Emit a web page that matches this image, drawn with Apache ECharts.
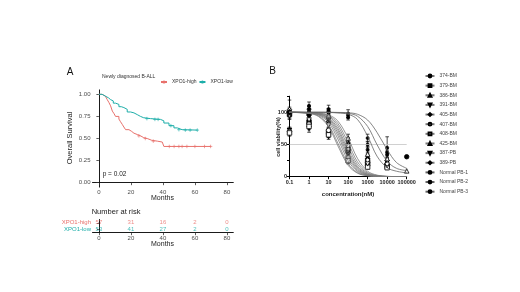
<!DOCTYPE html>
<html><head><meta charset="utf-8">
<script src="https://cdn.jsdelivr.net/npm/echarts@6/dist/echarts.min.js"></script>
<style>html,body{margin:0;padding:0;background:#fff}#c{width:520px;height:292px}</style>
</head><body><div id="c"></div><script>
// ---------- Panel A data ----------
const monthTicks = [0, 20, 40, 60, 80];
const survTicks = [0, 0.25, 0.5, 0.75, 1];
const kmHigh = [[0,1],[2,0.98],[4,0.96],[5.2,0.94],[6.3,0.906],[7.3,0.87],[8.4,0.81],[9.5,0.78],[10.4,0.75],[12.5,0.72],[13.5,0.69],[14.6,0.66],[15.6,0.63],[16.7,0.6],[18.8,0.58],[20.5,0.56],[21.9,0.545],[24,0.53],[26,0.51],[28,0.5],[30.2,0.48],[33,0.47],[36.5,0.46],[39.6,0.44],[40.6,0.41],[69.8,0.41]];
const kmLow = [[0,1],[2,0.98],[4,0.96],[6,0.94],[7.3,0.925],[9,0.9],[10.4,0.886],[12.5,0.86],[14,0.85],[15.6,0.83],[17.7,0.8],[19.8,0.79],[21.9,0.77],[24,0.75],[26,0.735],[28,0.725],[32.3,0.716],[38.5,0.7],[40.6,0.675],[43.8,0.645],[46.9,0.62],[49,0.6],[52,0.595],[61.5,0.595]];
const censorHigh = [[25,0.53],[29,0.5],[34,0.47],[44,0.41],[47,0.41],[50,0.41],[52,0.41],[55,0.41],[60,0.41],[66,0.41],[69.8,0.41]];
const censorLow = [[30,0.725],[35,0.716],[37,0.716],[45,0.645],[50,0.6],[54,0.595],[57,0.595],[61.5,0.595]];
const groups = ['XPO1-high', 'XPO1-low'];
const riskTimes = [0, 20, 40, 60, 80];
const riskHigh = [57, 31, 16, 2, 0];
const riskLow = [53, 41, 27, 2, 0];

// ---------- Panel B data ----------
const samples = ['374-BM','379-BM','386-BM','391-BM','405-BM','407-BM','408-BM','425-BM','387-PB','389-PB','Normal PB-1','Normal PB-2','Normal PB-3'];
const conc = [0.1, 1, 10, 100, 1000, 10000, 100000];
const curveConc = [0.1, 1, 3, 10, 30, 100, 300, 1000, 3000, 10000, 30000, 100000];
const c374 = [99.9,98.2,93.6,77.5,47.9,17.8,5.5,1.4,0.4,0.1,0,0];
const c379 = [99.9,98.5,94.5,80.1,52.0,20.3,6.4,1.6,0.4,0.1,0,0];
const c386 = [99.9,98.8,95.7,84.0,58.5,25.0,8.2,2.1,0.6,0.1,0,0];
const c391 = [100,99.0,96.5,86.8,63.7,29.3,10.0,2.5,0.7,0.2,0,0];
const c405 = [100,99.2,97.1,88.8,67.9,33.3,11.8,3.0,0.8,0.2,0.1,0];
const c407 = [100,99.3,97.6,90.4,71.7,37.4,13.8,3.6,1.0,0.2,0.1,0];
const c408 = [100,99.4,97.9,91.8,75.0,41.4,15.9,4.3,1.2,0.3,0.1,0];
const c425 = [100,99.5,98.3,93.3,78.9,46.8,19.0,5.3,1.5,0.4,0.1,0];
const c387 = [100,99.6,98.7,94.7,82.6,52.8,23.1,6.6,1.9,0.4,0.1,0];
const c389 = [100,99.7,99.0,96.0,86.4,59.9,28.6,8.6,2.5,0.6,0.2,0];
const cN1 = [100,100,100,99.7,99.0,97.0,89.0,63.0,32.0,14.0,8.5,6.0];
const cN2 = [100,100,100,99.9,99.5,98.5,94.0,78.0,50.0,24.0,13.0,9.5];
const cN3 = [100,100,100,100,99.8,99.3,97.0,88.0,69.0,42.0,22.0,13.0];
const curves = [c374,c379,c386,c391,c405,c407,c408,c425,c387,c389,cN1,cN2,cN3];

const p374 = [100,98,92,45,25,20,31];
const p379 = [97,85,70,40,20,16,null];
const p386 = [103,100,88,55,30,22,null];
const p391 = [72,75,62,35,18,15,null];
const p405 = [99,95,90,50,28,25,null];
const p407 = [70,82,72,30,22,18,null];
const p408 = [68,78,65,25,15,14,null];
const p425 = [101,102,95,60,35,28,9];
const p387 = [95,88,80,42,20,17,null];
const p389 = [104,105,100,48,26,20,null];
const pN1 = [100,105,102,98,60,35,null];
const pN2 = [102,110,105,95,50,45,null];
const pN3 = [98,100,100,92,42,38,null];
const points = [p374,p379,p386,p391,p405,p407,p408,p425,p387,p389,pN1,pN2,pN3];

const s374 = [4,5,5,6,5,4,0];
const s379 = [5,6,6,5,4,3,0];
const s386 = [5,5,6,6,5,4,0];
const s391 = [5,6,4,5,4,3,0];
const s405 = [4,5,5,6,5,4,0];
const s407 = [5,6,5,5,4,3,0];
const s408 = [5,5,4,5,3,3,0];
const s425 = [4,6,5,6,5,4,0];
const s387 = [5,6,5,5,4,3,0];
const s389 = [15,6,6,6,5,4,0];
const sN1 = [4,4,3,6,6,5,0];
const sN2 = [4,6,6,4,5,17,0];
const sN3 = [4,4,3,4,5,5,0];
const sds = [s374,s379,s386,s391,s405,s407,s408,s425,s387,s389,sN1,sN2,sN3];

// ---------- styles ----------
const RED = '#E8716C', TEAL = '#1DAEA9';
const FONT = 'Liberation Sans, Arial, sans-serif';
const symbolDefs = [
  {s:'circle', fill:'#000', rot:0},
  {s:'rect', fill:'#000', rot:0},
  {s:'triangle', fill:'#000', rot:0},
  {s:'triangle', fill:'#000', rot:180},
  {s:'diamond', fill:'#000', rot:0},
  {s:'circle', fill:'#fff', rot:0},
  {s:'rect', fill:'#fff', rot:0},
  {s:'triangle', fill:'#fff', rot:0},
  {s:'triangle', fill:'#fff', rot:180},
  {s:'diamond', fill:'#fff', rot:0},
  {s:'circle', fill:'#000', rot:0, small:true},
  {s:'circle', fill:'#000', rot:0, small:true},
  {s:'circle', fill:'#000', rot:0, small:true}
];

const chart = echarts.init(document.getElementById('c'), null, {renderer:'canvas'});

const series = [];
series.push({name:'XPO1-high', type:'line', xAxisIndex:0, yAxisIndex:0, step:'end', data:kmHigh, symbol:'none', lineStyle:{color:RED, width:1}, itemStyle:{color:RED}});
series.push({name:'XPO1-low', type:'line', xAxisIndex:0, yAxisIndex:0, step:'end', data:kmLow, symbol:'none', lineStyle:{color:TEAL, width:1}, itemStyle:{color:TEAL}});
const plus = 'path://M0,4L8,4M4,0L4,8';
series.push({type:'scatter', xAxisIndex:0, yAxisIndex:0, data:censorHigh, symbol:plus, symbolSize:3.5, itemStyle:{color:'none', borderColor:RED, borderWidth:0.8}, silent:true});
series.push({type:'scatter', xAxisIndex:0, yAxisIndex:0, data:censorLow, symbol:plus, symbolSize:3.5, itemStyle:{color:'none', borderColor:TEAL, borderWidth:0.8}, silent:true});
const riskData = [];
riskTimes.forEach((t,i)=>{ riskData.push({value:[t, groups[0], riskHigh[i]], label:{color:RED}}); riskData.push({value:[t, groups[1], riskLow[i]], label:{color:TEAL}}); });
series.push({type:'scatter', xAxisIndex:1, yAxisIndex:1, data:riskData, symbolSize:0,
  label:{show:true, position:'inside', formatter:p=>String(p.value[2]), fontSize:6, fontFamily:FONT}});

series.push({type:'line', xAxisIndex:2, yAxisIndex:2, data:[[conc[0],50],[conc[conc.length-1],50]], symbol:'none', lineStyle:{color:'#c4c4c4', width:0.8}, silent:true});
samples.forEach((name,k)=>{
  const d = symbolDefs[k];
  series.push({name:name, type:'line', xAxisIndex:2, yAxisIndex:2, smooth:0.35,
    data: curveConc.map((c,i)=>[c, curves[k][i]]), symbol:d.s, symbolRotate:d.rot, showSymbol:false, symbolSize:3,
    lineStyle:{color: k>=10 ? '#666' : '#7a7a7a', width:0.8},
    itemStyle:{color:d.fill, borderColor:'#000', borderWidth:0.7}});
});
const errData = [];
samples.forEach((name,k)=>{ conc.forEach((c,i)=>{ const v = points[k][i]; if (v!==null && sds[k][i]>0) errData.push([c, v, sds[k][i]]); }); });
series.push({type:'custom', xAxisIndex:2, yAxisIndex:2, data:errData, silent:true,
  renderItem:function(params, api){
    const x = api.value(0), y = api.value(1), e = api.value(2);
    const t = api.coord([x, y+e]), b = api.coord([x, Math.max(0.001, y-e)]);
    const w = 1.8, st = {stroke:'#000', lineWidth:0.7};
    return {type:'group', children:[
      {type:'line', shape:{x1:t[0],y1:t[1],x2:b[0],y2:b[1]}, style:st},
      {type:'line', shape:{x1:t[0]-w,y1:t[1],x2:t[0]+w,y2:t[1]}, style:st},
      {type:'line', shape:{x1:b[0]-w,y1:b[1],x2:b[0]+w,y2:b[1]}, style:st}
    ]};
  }});
samples.forEach((name,k)=>{
  const d = symbolDefs[k];
  const data = [];
  conc.forEach((c,i)=>{ if (points[k][i]!==null) data.push([c, points[k][i]]); });
  series.push({name:name, type:'scatter', xAxisIndex:2, yAxisIndex:2, data:data, symbol:d.s, symbolRotate:d.rot,
    symbolSize: d.small ? 3 : 4.5, itemStyle:{color:d.fill, borderColor:'#000', borderWidth:0.8, opacity:1}});
});

const axLine = {show:true, lineStyle:{color:'#000', width:0.9}};
const option = {
  animation:false,
  backgroundColor:'#fff',
  textStyle:{fontFamily:FONT},
  grid:[
    {left:92.5, top:89.9, width:140.8, height:97.2},
    {left:92.5, top:219.5, width:140.8, height:13.2},
    {left:289.5, top:96.2, width:117.2, height:80.5}
  ],
  xAxis:[
    {gridIndex:0, type:'value', min:-4, max:84, axisLine:axLine, splitLine:{show:false},
      axisTick:{show:true, length:2.5, customValues:monthTicks, lineStyle:{color:'#333', width:0.8}},
      axisLabel:{customValues:monthTicks, fontSize:6, color:'#4d4d4d', margin:2.5, fontFamily:FONT}},
    {gridIndex:1, type:'value', min:-4, max:84, axisLine:axLine, splitLine:{show:false},
      axisTick:{show:true, length:2.5, customValues:riskTimes, lineStyle:{color:'#333', width:0.8}},
      axisLabel:{customValues:riskTimes, fontSize:6, color:'#4d4d4d', margin:2.5, fontFamily:FONT}},
    {gridIndex:2, type:'log', logBase:10, min:conc[0], max:conc[conc.length-1], axisLine:{show:true, lineStyle:{color:'#000', width:1}}, splitLine:{show:false},
      axisTick:{show:true, length:2.5, lineStyle:{color:'#000', width:1}},
      axisLabel:{fontSize:5.5, fontWeight:'bold', color:'#222', margin:3, formatter:v=>String(v), fontFamily:FONT}}
  ],
  yAxis:[
    {gridIndex:0, type:'value', min:-0.05, max:1.05, axisLine:axLine, splitLine:{show:false},
      axisTick:{show:true, length:2.5, customValues:survTicks, lineStyle:{color:'#333', width:0.8}},
      axisLabel:{customValues:survTicks, fontSize:6, color:'#4d4d4d', margin:2, formatter:v=>v.toFixed(2), fontFamily:FONT}},
    {gridIndex:1, type:'category', data:groups, inverse:true, axisLine:axLine, splitLine:{show:false},
      axisTick:{show:true, length:2, alignWithLabel:true, interval:0, lineStyle:{color:'#333', width:0.8}},
      axisLabel:{interval:0, margin:1.5, fontFamily:FONT, formatter:v=>'{'+(v===groups[0]?'h':'l')+'|'+v+'}',
        rich:{h:{color:RED, fontSize:6, fontFamily:FONT}, l:{color:TEAL, fontSize:6, fontFamily:FONT}}}},
    {gridIndex:2, type:'value', min:0, max:125, interval:25, axisLine:{show:true, lineStyle:{color:'#000', width:1}}, splitLine:{show:false},
      axisTick:{show:true, length:2.5, lineStyle:{color:'#000', width:1}},
      axisLabel:{fontSize:5.5, fontWeight:'bold', color:'#222', margin:2.5, formatter:v=>(v%50===0 && v<=100)?String(v):'', fontFamily:FONT}}
  ],
  legend:[
    {data:['XPO1-high','XPO1-low'], left:155, top:74.5, orient:'horizontal', itemWidth:6, itemHeight:4, itemGap:2,
      textStyle:{fontSize:5, color:'#333', fontFamily:FONT}, selectedMode:false},
    {data:samples, left:419.5, top:68, orient:'vertical', itemWidth:9, itemHeight:3.5, itemGap:3.64,
      textStyle:{fontSize:5, color:'#444', lineHeight:6, fontFamily:FONT}, selectedMode:false}
  ],
  graphic:[
    {type:'text', x:70, y:72, style:{text:'A', fontSize:10, fill:'#111', align:'center', verticalAlign:'middle', fontFamily:FONT}},
    {type:'text', x:102, y:77, style:{text:'Newly diagnosed B-ALL', fontSize:5, fill:'#333', align:'left', verticalAlign:'middle', fontFamily:FONT}},
    {type:'text', x:70, y:138, rotation:Math.PI/2, style:{text:'Overall Survival', fontSize:7.5, fill:'#222', align:'center', verticalAlign:'middle', fontFamily:FONT}},
    {type:'text', x:102.7, y:174.3, style:{text:'p = 0.02', fontSize:6.5, fill:'#222', align:'left', verticalAlign:'middle', fontFamily:FONT}},
    {type:'text', x:162.5, y:198.5, style:{text:'Months', fontSize:7, fill:'#222', align:'center', verticalAlign:'middle', fontFamily:FONT}},
    {type:'text', x:91.7, y:211.7, style:{text:'Number at risk', fontSize:7.5, fill:'#222', align:'left', verticalAlign:'middle', fontFamily:FONT}},
    {type:'text', x:162.5, y:244.2, style:{text:'Months', fontSize:7, fill:'#222', align:'center', verticalAlign:'middle', fontFamily:FONT}},
    {type:'text', x:272.7, y:71.7, style:{text:'B', fontSize:10, fill:'#111', align:'center', verticalAlign:'middle', fontFamily:FONT}},
    {type:'text', x:278, y:137, rotation:Math.PI/2, style:{text:'cell viability(%)', fontSize:5.5, fontWeight:'bold', fill:'#222', align:'center', verticalAlign:'middle', fontFamily:FONT}},
    {type:'text', x:348, y:194.3, style:{text:'concentration(nM)', fontSize:6, fontWeight:'bold', fill:'#222', align:'center', verticalAlign:'middle', fontFamily:FONT}}
  ],
  series:series
};
chart.setOption(option);
</script></body></html>
